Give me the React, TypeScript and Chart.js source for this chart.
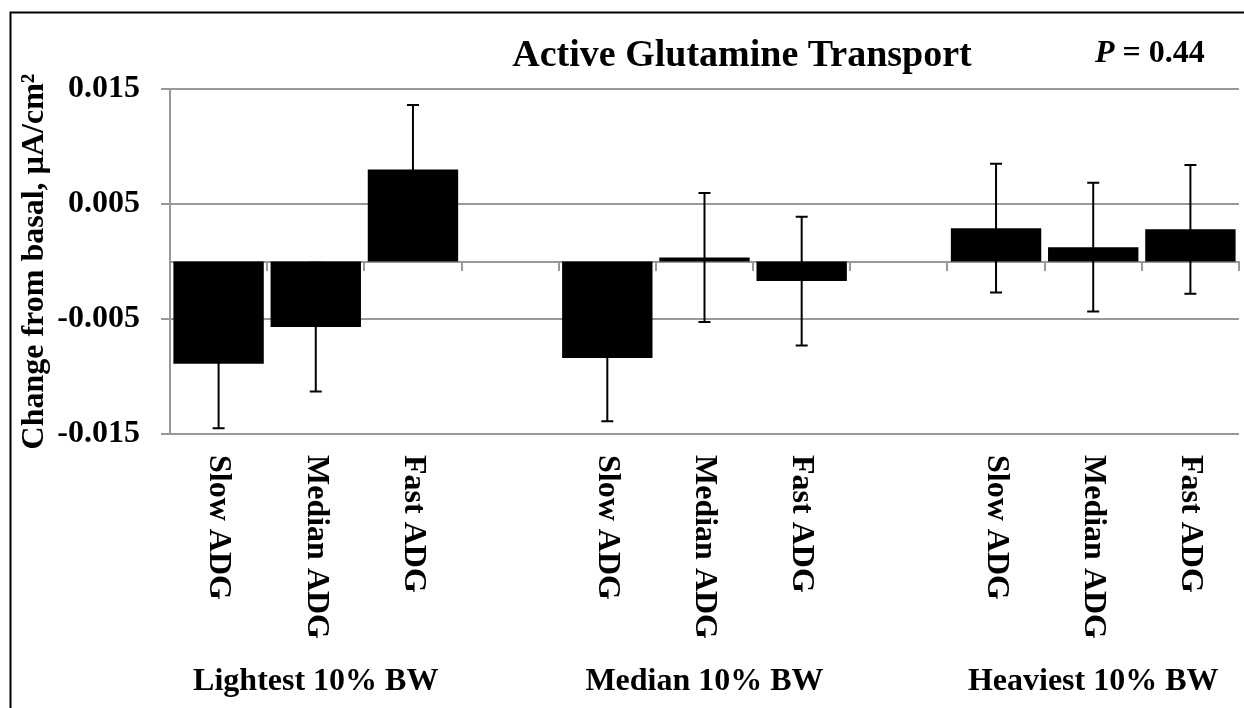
import React, { useEffect, useRef } from 'react';
import { Chart, registerables } from 'chart.js';

Chart.register(...registerables);

// ---- data ----
const categories = [
  'Slow ADG', 'Median ADG', 'Fast ADG', '',
  'Slow ADG', 'Median ADG', 'Fast ADG', '',
  'Slow ADG', 'Median ADG', 'Fast ADG',
];
const groupLabels = ['Lightest 10% BW', 'Median 10% BW', 'Heaviest 10% BW'];
const groupCenterIndex = [1, 5, 9];
const means: (number | null)[] = [
  -0.0089, -0.0057, 0.008, null,
  -0.0084, 0.00035, -0.0017, null,
  0.0029, 0.00125, 0.0028,
];
const sems: (number | null)[] = [
  0.0056, 0.0056, 0.0056, null,
  0.0055, 0.0056, 0.0056, null,
  0.0056, 0.0056, 0.0056,
];
const yTicks = [-0.015, -0.005, 0.005, 0.015];
const titleText = 'Active Glutamine Transport';
const pLetter = 'P';
const pRest = ' = 0.44';
const yTitleText = 'Change from basal, µA/cm²';

const FAMILY = "'Liberation Serif', 'Times New Roman', serif";
const GRID = '#999999';

const annotPlugin = {
  id: 'annot',
  afterDatasetsDraw(chart: any) {
    const ctx = chart.ctx;
    const y = chart.scales.y;
    const meta = chart.getDatasetMeta(0);
    ctx.save();
    ctx.strokeStyle = '#000';
    ctx.lineWidth = 2;
    meta.data.forEach((bar: any, i: number) => {
      const m = means[i];
      const s = sems[i];
      if (m == null || s == null) return;
      const x = bar.x;
      const yt = y.getPixelForValue(m + s);
      const yb = y.getPixelForValue(m - s);
      ctx.beginPath();
      ctx.moveTo(x, yt);
      ctx.lineTo(x, yb);
      ctx.moveTo(x - 6, yt);
      ctx.lineTo(x + 6, yt);
      ctx.moveTo(x - 6, yb);
      ctx.lineTo(x + 6, yb);
      ctx.stroke();
    });
    ctx.restore();
  },
  afterDraw(chart: any) {
    const ctx = chart.ctx;
    const xs = chart.scales.x;
    ctx.save();
    ctx.fillStyle = '#000';
    // rotated category labels
    ctx.font = `bold 32px ${FAMILY}`;
    ctx.textAlign = 'left';
    ctx.textBaseline = 'middle';
    categories.forEach((lab, i) => {
      if (!lab) return;
      const x = xs.getPixelForValue(i);
      ctx.save();
      ctx.translate(x, 455);
      ctx.rotate(Math.PI / 2);
      ctx.fillText(lab, 0, 0);
      ctx.restore();
    });
    // group labels
    ctx.textAlign = 'center';
    ctx.textBaseline = 'alphabetic';
    groupLabels.forEach((g, k) => {
      ctx.fillText(g, xs.getPixelForValue(groupCenterIndex[k]), 690);
    });
    // title
    ctx.font = `bold 38px ${FAMILY}`;
    ctx.fillText(titleText, 742, 66);
    // P value
    ctx.textAlign = 'left';
    ctx.font = `italic bold 32px ${FAMILY}`;
    ctx.fillText(pLetter, 1095, 62);
    const pw = ctx.measureText(pLetter).width;
    ctx.font = `bold 32px ${FAMILY}`;
    ctx.fillText(pRest, 1095 + pw, 62);
    // frame
    ctx.strokeStyle = '#000';
    ctx.lineWidth = 2;
    ctx.strokeRect(10.5, 12.5, 1400, 1000);
    ctx.restore();
  },
};

export default function App() {
  const ref = useRef<HTMLCanvasElement | null>(null);
  useEffect(() => {
    if (!ref.current) return;
    const chart = new Chart(ref.current, {
      type: 'bar',
      data: {
        labels: categories,
        datasets: [
          {
            data: means as any,
            backgroundColor: '#000',
            borderWidth: 0,
            barPercentage: 0.93,
            categoryPercentage: 1.0,
            xAxisID: 'x',
            yAxisID: 'y',
          },
        ],
      },
      options: {
        responsive: false,
        animation: false,
        layout: { padding: { left: 0, right: 5, top: 89, bottom: 274 } },
        plugins: {
          legend: { display: false },
          title: { display: false },
          tooltip: { enabled: false },
        },
        scales: {
          x: {
            type: 'category',
            display: false,
            offset: true,
            grid: { offset: true },
          },
          xz: {
            type: 'category',
            axis: 'x',
            position: { y: 0 } as any,
            offset: true,
            grid: {
              display: true,
              drawOnChartArea: false,
              drawTicks: true,
              tickLength: 8,
              offset: true,
              color: GRID,
              lineWidth: 2,
            },
            border: { display: true, color: GRID, width: 2 },
            ticks: { display: false },
          },
          y: {
            type: 'linear',
            min: -0.015,
            max: 0.015,
            afterBuildTicks: (s: any) => {
              s.ticks = yTicks.map((v) => ({ value: v }));
            },
            afterFit: (s: any) => {
              s.width = 170;
            },
            ticks: {
              callback: (v: any) => Number(v).toFixed(3),
              font: { family: FAMILY, size: 32, weight: 'bold' },
              color: '#000',
              padding: 21,
            },
            grid: { color: GRID, lineWidth: 2, tickLength: 9, drawTicks: true },
            border: { display: true, color: GRID, width: 2 },
            title: {
              display: true,
              text: yTitleText,
              color: '#000',
              font: { family: FAMILY, size: 32, weight: 'bold' },
              padding: { top: 16, bottom: 0 },
            },
          },
        },
      },
      plugins: [annotPlugin],
    });
    return () => chart.destroy();
  }, []);
  return (
    <div style={{ position: 'absolute', left: 0, top: 0, width: 1244, height: 708, background: '#fff' }}>
      <canvas ref={ref} width={1244} height={708} style={{ display: 'block' }} />
    </div>
  );
}
